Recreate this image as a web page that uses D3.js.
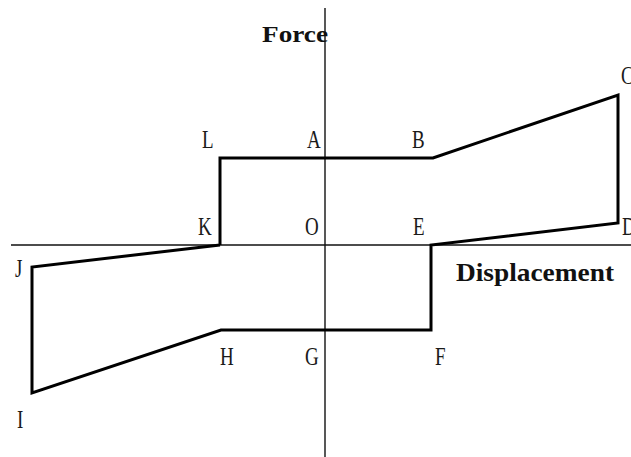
<!DOCTYPE html>
<html>
<head>
<meta charset="utf-8">
<script src="https://cdn.jsdelivr.net/npm/d3@7/dist/d3.min.js"></script>
<style>
  html, body { margin: 0; padding: 0; background: #fff; }
  svg { display: block; }
</style>
</head>
<body>
<svg id="chart" width="631" height="457"></svg>
<script>
// Hysteresis loop, K -> L -> B -> C -> D -> E -> F -> H -> I -> J -> K
var pathNames = ["K", "L", "B", "C", "D", "E", "F", "H", "I", "J", "K"];
var pathDisp  = [-1.05, -1.05, 1.08, 2.93, 2.93, 1.06, 1.06, -1.04, -2.93, -2.93, -1.05];
var pathForce = [0, 0.87, 0.87, 1.50, 0.22, 0, -0.85, -0.85, -1.48, -0.22, 0];

// Punkter på aksen (A, O, G)
var axisNames = ["A", "O", "G"];
var axisForce = [0.87, 0, -0.85];

var xTitle = "Displacement";
var yTitle = "Force";

var svg = d3.select("#chart"),
    width = +svg.attr("width"),
    height = +svg.attr("height");

var x = d3.scaleLinear().domain([-3.14, 3.06]).range([11, 631]);
var y = d3.scaleLinear().domain([2.37, -2.12]).range([8, 457]);

// Akser
svg.append("line")
    .attr("x1", x(-3.14)).attr("x2", x(3.06))
    .attr("y1", y(0)).attr("y2", y(0))
    .attr("stroke", "#111").attr("stroke-width", 1.4);

svg.append("line")
    .attr("x1", x(0)).attr("x2", x(0))
    .attr("y1", y(2.37)).attr("y2", y(-2.12))
    .attr("stroke", "#111").attr("stroke-width", 1.4);

// Selve kurven
var pts = pathDisp.map(function(d, i) { return [d, pathForce[i]]; });
var line = d3.line()
    .x(function(d) { return x(d[0]); })
    .y(function(d) { return y(d[1]); });

svg.append("path")
    .datum(pts)
    .attr("d", line)
    .attr("fill", "none")
    .attr("stroke", "#000")
    .attr("stroke-width", 3)
    .attr("stroke-linejoin", "miter");

// Label offsets (px) fra punktet
var offsets = {
    L: [-18, -10], A: [-18, -10], B: [-21, -10], C: [3, -11],
    D: [4, 12], E: [-18, -10], F: [4, 35], G: [-20, 35],
    H: [-1, 35], I: [-15, 35], J: [-17, 10], K: [-22, -10], O: [-20, -10]
};

var labels = [];
pathNames.slice(0, -1).forEach(function(n, i) {
    labels.push({ name: n, x: pathDisp[i], y: pathForce[i] });
});
axisNames.forEach(function(n, i) {
    labels.push({ name: n, x: 0, y: axisForce[i] });
});

svg.append("g")
    .selectAll("text")
    .data(labels)
    .enter().append("text")
        .attr("transform", function(d) {
            var o = offsets[d.name];
            return "translate(" + (x(d.x) + o[0]) + "," + (y(d.y) + o[1]) + ") scale(1,1.3)";
        })
        .style("font-family", "'Liberation Serif', 'Times New Roman', serif")
        .style("font-size", "19px")
        .attr("fill", "#1a1a1a")
        .text(function(d) { return d.name; });

// Aksetitler
svg.append("text")
    .attr("x", 262).attr("y", 42)
    .attr("textLength", 66).attr("lengthAdjust", "spacingAndGlyphs")
    .style("font-family", "'Liberation Serif', 'Times New Roman', serif")
    .style("font-size", "23px")
    .style("font-weight", "bold")
    .attr("fill", "#111")
    .text(yTitle);

svg.append("text")
    .attr("x", 456).attr("y", 281)
    .attr("textLength", 158).attr("lengthAdjust", "spacingAndGlyphs")
    .style("font-family", "'Liberation Serif', 'Times New Roman', serif")
    .style("font-size", "25px")
    .style("font-weight", "bold")
    .attr("fill", "#111")
    .text(xTitle);
</script>
</body>
</html>
